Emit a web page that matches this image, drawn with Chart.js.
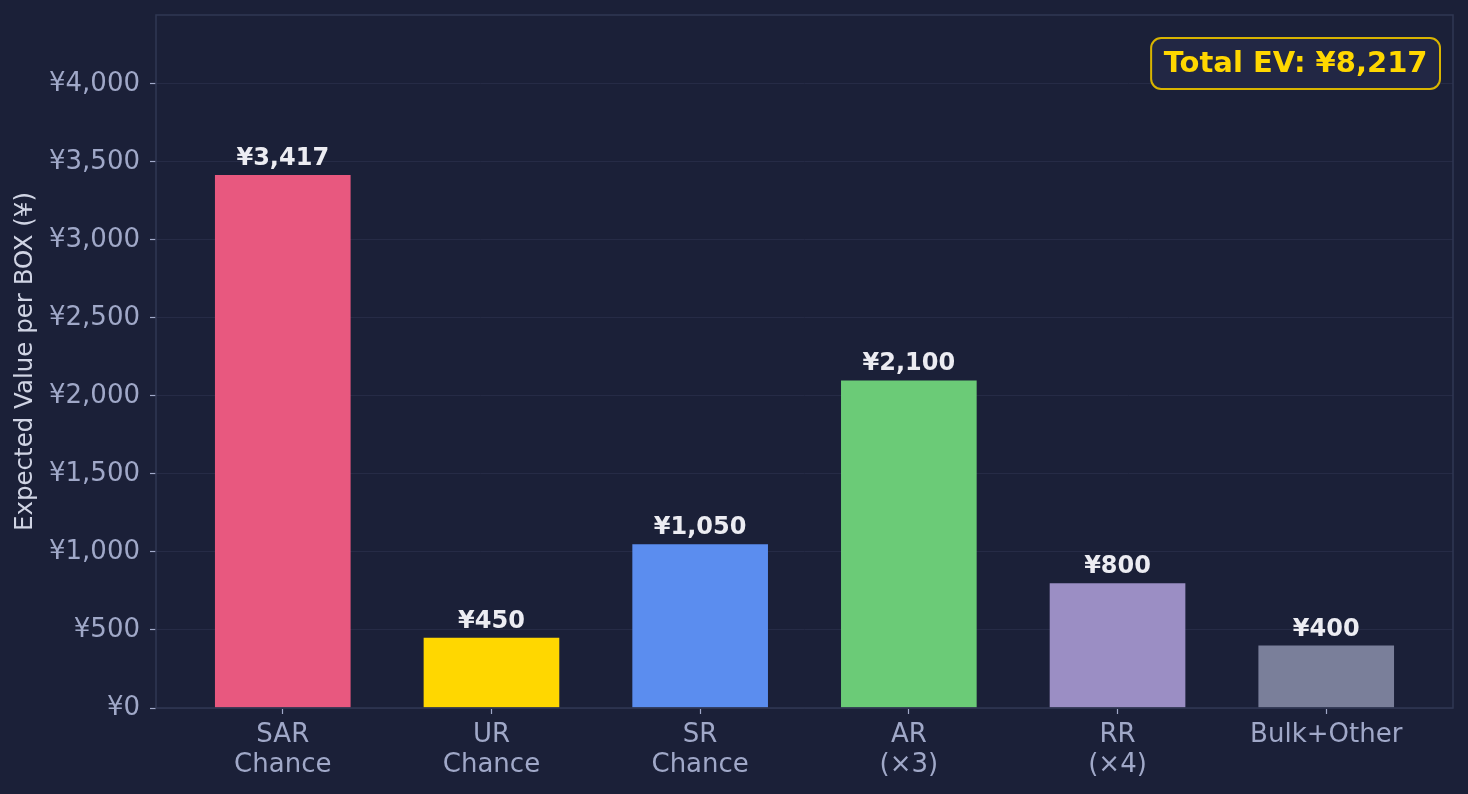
<!DOCTYPE html>
<html lang="en">
<head>
    <meta charset="UTF-8">
    <title>Expected Value per BOX</title>
    <script src="https://cdn.jsdelivr.net/npm/chart.js"></script>
    <style>
        html, body { margin: 0; padding: 0; background: #1b2038; }
        #wrap { width: 1468px; height: 794px; position: relative; }
    </style>
</head>
<body>
    <div id="wrap"><canvas id="evChart"></canvas></div>
    <script>
        // chart data
        const categories = [['SAR', 'Chance'], ['UR', 'Chance'], ['SR', 'Chance'], ['AR', '(×3)'], ['RR', '(×4)'], 'Bulk+Other'];
        const evValues = [3417, 450, 1050, 2100, 800, 400];
        const barColors = ['#e8587f', '#ffd700', '#5b8def', '#6bcb77', '#9b8ec4', '#7a7f9a'];
        const yTicks = [0, 500, 1000, 1500, 2000, 2500, 3000, 3500, 4000];

        const totalEV = evValues.reduce((a, b) => a + b, 0);
        const yen = v => '¥' + v.toLocaleString('en-US');

        const FONT = 'DejaVu Sans';
        const SPINE = '#313753';

        // background, frame, value labels and total box
        const decorPlugin = {
            id: 'decor',
            beforeDraw(chart) {
                const c = chart.ctx;
                c.save();
                c.fillStyle = '#1b2038';
                c.fillRect(0, 0, chart.width, chart.height);
                c.restore();
            },
            afterDatasetsDraw(chart) {
                const c = chart.ctx;
                const area = chart.chartArea;
                const meta = chart.getDatasetMeta(0);
                c.save();
                c.font = 'bold 24px "' + FONT + '"';
                c.fillStyle = '#ececf2';
                c.textAlign = 'center';
                c.textBaseline = 'alphabetic';
                meta.data.forEach((bar, i) => {
                    c.fillText(yen(evValues[i]), bar.x, bar.y - 10);
                });

                // frame
                c.strokeStyle = SPINE;
                c.lineWidth = 1.5;
                c.strokeRect(area.left, area.top, area.right - area.left, area.bottom - area.top);

                // total EV box
                const txt = 'Total EV: ' + yen(totalEV);
                c.font = 'bold 29px "' + FONT + '"';
                const w = c.measureText(txt).width + 25;
                const h = 51;
                const bx = area.right - 13 - w;
                const by = area.top + 23;
                c.beginPath();
                c.roundRect(bx, by, w, h, 10);
                c.fillStyle = '#222744';
                c.fill();
                c.strokeStyle = '#d9b400';
                c.lineWidth = 2;
                c.stroke();
                c.fillStyle = '#ffd700';
                c.textAlign = 'center';
                c.textBaseline = 'middle';
                c.fillText(txt, bx + w / 2, by + h / 2 + 1);
                c.restore();
            }
        };

        const ctx = document.getElementById('evChart').getContext('2d');
        const evChart = new Chart(ctx, {
            type: 'bar',
            data: {
                datasets: [{
                    data: evValues.map((v, i) => ({ x: i, y: v })),
                    backgroundColor: barColors,
                    borderWidth: 0,
                    categoryPercentage: 1,
                    barPercentage: 0.65
                }]
            },
            plugins: [decorPlugin],
            options: {
                responsive: true,
                maintainAspectRatio: false,
                animation: false,
                layout: { padding: { left: 0, right: 15, top: 15, bottom: 0 } },
                plugins: {
                    legend: { display: false },
                    tooltip: { enabled: false }
                },
                scales: {
                    x: {
                        type: 'linear',
                        offset: false,
                        min: -0.6075,
                        max: 5.6075,
                        afterFit: s => { s.height = 86; s.paddingLeft = 0; s.paddingRight = 0; },
                        afterBuildTicks: s => { s.ticks = categories.map((c, i) => ({ value: i })); },
                        border: { display: false },
                        grid: { offset: false, drawOnChartArea: false, drawTicks: true, tickLength: 6, tickColor: '#a0a8c8', tickWidth: 1.2 },
                        ticks: {
                            autoSkip: false,
                            maxRotation: 0,
                            padding: 7,
                            color: '#a0a8c8',
                            font: { family: FONT, size: 26, lineHeight: 1.13 },
                            callback: v => categories[v]
                        }
                    },
                    y: {
                        min: 0,
                        max: 3417 * 1.3,
                        afterFit: s => { s.width = 156; s.paddingTop = 0; s.paddingBottom = 0; },
                        afterBuildTicks: s => { s.ticks = yTicks.map(v => ({ value: v })); },
                        border: { display: false },
                        grid: { color: '#262b46', lineWidth: 1, drawTicks: true, tickLength: 6, tickColor: '#a0a8c8', tickWidth: 1.2 },
                        ticks: {
                            padding: 10,
                            color: '#a0a8c8',
                            font: { family: FONT, size: 26 },
                            callback: v => yen(v)
                        },
                        title: {
                            display: true,
                            text: 'Expected Value per BOX (¥)',
                            color: '#d0d4e4',
                            font: { family: FONT, size: 24.5 },
                            padding: { top: 11, bottom: 0 }
                        }
                    }
                }
            }
        });
    </script>
</body>
</html>
